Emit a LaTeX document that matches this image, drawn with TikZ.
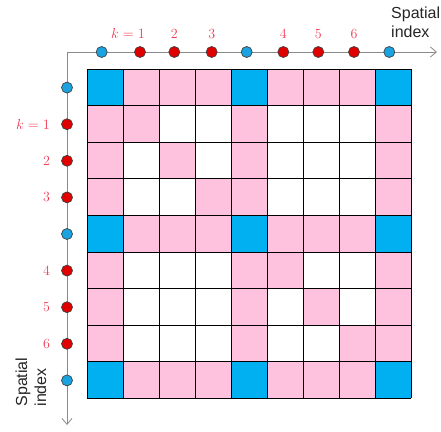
\documentclass[tikz,border=0pt]{standalone}
\usepackage{fontspec}
\setsansfont{Liberation Sans}
\usepackage{tikz}
\usetikzlibrary{arrows.meta,positioning}
\definecolor{cellblue}{HTML}{00B0F0}
\definecolor{cellpink}{HTML}{FFC2DE}
\definecolor{dotblue}{HTML}{1AA3E0}
\definecolor{dotred}{HTML}{E00000}
\definecolor{labelred}{HTML}{EE3B55}
\definecolor{axisgray}{HTML}{8A8A8A}
\tikzset{
  bluedot/.style={
    circle,
    draw=black!75,
    fill=dotblue,
    line width=0.7pt,
    minimum size=11pt,
    inner sep=0pt
  },
  reddot/.style={
    circle,
    draw=black!75,
    fill=dotred,
    line width=0.7pt,
    minimum size=11pt,
    inner sep=0pt
  },
  klabel/.style={
    text=labelred,
    font=\fontsize{14}{16}\selectfont,
    inner sep=0pt
  },
  axistext/.style={
    text=black!85,
    font=\sffamily\fontsize{16}{19}\selectfont,
    align=left,
    inner sep=0pt
  },
  axisline/.style={-{Straight Barb[length=6pt,width=10pt]}, line width=0.8pt, draw=axisgray},
  gridline/.style={line width=0.9pt, draw=black}
}

\begin{document}
\begin{tikzpicture}[x=1pt, y=-1pt]
  \useasboundingbox (0,0) rectangle (441,431);

  % cells: border rows and columns, diagonal, blue crossings
  \foreach \i in {0,4,8} {
    \fill[cellpink] (87,{69+\i*36.6}) rectangle +(324,36.6);
    \fill[cellpink] ({87+\i*36},69) rectangle +(36,329.4);
  }
  \foreach \i in {1,2,3,5,6,7}
    \fill[cellpink] ({87+\i*36},{69+\i*36.6}) rectangle +(36,36.6);
  \foreach \i in {0,4,8}
    \foreach \j in {0,4,8}
      \fill[cellblue] ({87+\j*36},{69+\i*36.6}) rectangle +(36,36.6);

  % grid lines
  \foreach \i in {0,...,9} {
    \draw[gridline] (87,{69+\i*36.6}) -- (411,{69+\i*36.6});
    \draw[gridline] ({87+\i*36},69) -- ({87+\i*36},398.4);
  }

  % axes
  \coordinate (origin) at (67,52);
  \coordinate (xend) at (437,52);
  \coordinate (yend) at (67,425);
  \draw[axisline] (origin) -- (xend);
  \draw[axisline] (origin) -- (yend);

  % dots along the top axis
  \foreach \x/\s [count=\n from 0] in {101.7/bluedot, 140/reddot, 174.3/reddot,
      211.7/reddot, 246.7/bluedot, 283.3/reddot, 318.3/reddot, 354/reddot, 389.3/bluedot}
    \node[\s] (t\n) at (\x,52) {};

  % dots along the left axis
  \foreach \s [count=\n from 0] in {bluedot, reddot, reddot, reddot, bluedot,
      reddot, reddot, reddot, bluedot}
    \node[\s] (l\n) at (67,{87.6+\n*36.6}) {};

  % k labels
  \node[klabel, above=7pt of t1, xshift=-12pt] (kt1) {$k=1$};
  \node[klabel, above=7pt of t2] (kt2) {2};
  \node[klabel, above=7pt of t3] (kt3) {3};
  \node[klabel, above=7pt of t5] (kt4) {4};
  \node[klabel, above=7pt of t6] (kt5) {5};
  \node[klabel, above=7pt of t7] (kt6) {6};
  \node[klabel, left=11pt of l1] (kl1) {$k=1$};
  \node[klabel, left=11pt of l2] (kl2) {2};
  \node[klabel, left=11pt of l3] (kl3) {3};
  \node[klabel, left=11pt of l5] (kl4) {4};
  \node[klabel, left=11pt of l6] (kl5) {5};
  \node[klabel, left=11pt of l7] (kl6) {6};

  % axis titles
  \node[axistext, anchor=west] (xtitle) at (391,22) {Spatial\\index};
  \node[axistext, rotate=90] (ytitle) at (31,382) {Spatial\\index};
\end{tikzpicture}
\end{document}
